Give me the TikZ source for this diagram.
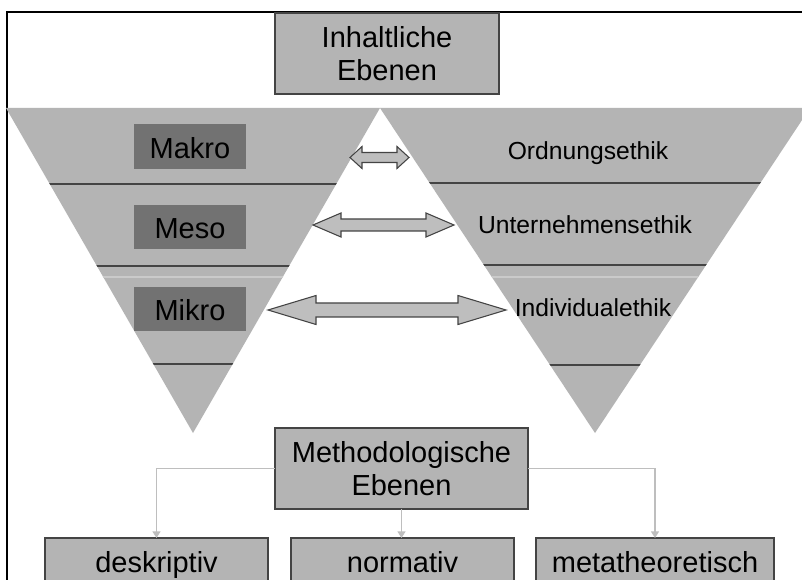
\documentclass[tikz,border=0pt]{standalone}
\usepackage{fontspec}
\setmainfont{Liberation Sans}
\usetikzlibrary{arrows.meta}
\definecolor{lg}{HTML}{B4B4B4}
\definecolor{dg}{HTML}{727272}
\definecolor{ln}{HTML}{444444}
\definecolor{faint}{HTML}{CACACA}
\definecolor{ag}{HTML}{BEBEBE}
\definecolor{cg}{HTML}{BEBEBE}
\newcommand{\bigfont}{\fontsize{21.75}{25.1}\selectfont}
\newcommand{\midfont}{\fontsize{18.5}{22}\selectfont}
\newcommand{\dblarr}[6]{%
  \filldraw[blockarrow] (#1,#3) -- (#1+#4,#3-#5) -- (#1+#4,#3-#6) -- (#2-#4,#3-#6) -- (#2-#4,#3-#5) -- (#2,#3) -- (#2-#4,#3+#5) -- (#2-#4,#3+#6) -- (#1+#4,#3+#6) -- (#1+#4,#3+#5) -- cycle;}
\tikzset{
  sz/.style 2 args={minimum width=#1*0.75pt, minimum height=#2*0.75pt},
  gbase/.style={draw=ln, fill=lg, line width=0.9pt, inner sep=0pt, outer sep=0pt, font=\bigfont},
  graybox/.style={gbase, align=center},
  botbox/.style={gbase, text height=17.4pt, text depth=0pt, anchor=north},
  darkbox/.style={fill=dg, inner sep=0pt, outer sep=0pt, font=\bigfont, text height=17.4pt, text depth=0pt},
  rlabel/.style={font=\midfont, anchor=base, inner sep=0pt},
  sepline/.style={draw=ln, line width=1.1pt},
  faintline/.style={draw=faint, line width=0.8pt},
  blockarrow/.style={fill=cg, draw=ln, line width=0.8pt, line join=miter},
  conn/.style={draw=ag, line width=1.1pt, -{Triangle[length=5pt,width=6pt]}},
}
\begin{document}
\begin{tikzpicture}[x=0.75pt, y=-0.75pt]
\useasboundingbox (0,0) rectangle (802,580);
\clip (0,0) rectangle (802,580);
\fill[white] (0,0) rectangle (802,580);

% frame
\draw[line width=1.8pt] (7,600) -- (7,12) -- (820,12);

% triangles
\fill[lg] (6,108) -- (380,108) -- (193,433) -- cycle;
\fill[lg] (380,108) -- (810,108) -- (595,433) -- cycle;
\begin{scope}
  \clip (6,108) -- (380,108) -- (193,433) -- cycle;
  \draw[faintline] (0,277) -- (400,277);
  \draw[sepline] (0,184) -- (400,184);
  \draw[sepline] (0,266) -- (400,266);
  \draw[sepline] (0,364) -- (400,364);
\end{scope}
\begin{scope}
  \clip (380,108) -- (810,108) -- (595,433) -- cycle;
  \draw[faintline] (370,277) -- (820,277);
  \draw[sepline] (370,183) -- (820,183);
  \draw[sepline] (370,265) -- (820,265);
  \draw[sepline] (370,365) -- (820,365);
\end{scope}

% dark level boxes
\node[darkbox, sz={112}{45}] (makro) at (190,146.5) {Makro};
\node[darkbox, sz={112}{44}] (meso) at (190,227) {Meso};
\node[darkbox, sz={112}{44}] (mikro) at (190,309) {Mikro};

% right labels
\node[rlabel] (ord) at (588,160) {Ordnungsethik};
\node[rlabel] (unt) at (585,234) {Unternehmensethik};
\node[rlabel] (ind) at (593,317) {Individualethik};

% double block arrows
\dblarr{350}{409}{157.5}{12}{11}{5}
\dblarr{313}{454}{225}{28}{12}{6}
\dblarr{268}{506}{310}{48}{14.5}{7}

% top box
\node[graybox, sz={224}{81}] (inh) at (387,53.5) {Inhaltliche\\Ebenen};

% methodological levels
\node[graybox, sz={253}{81}] (meth) at (401.5,468.5) {Methodologische\\Ebenen};
\node[botbox, sz={223}{46}] (desk) at (156.5,538) {deskriptiv};
\node[botbox, sz={223}{46}] (norm) at (402.5,538) {normativ};
\node[botbox, sz={238}{46}] (meta) at (655,538) {metatheoretisch};

\draw[conn] (meth.west) -| (desk.north);
\draw[conn] (meth.south) -- (meth.south |- norm.north);
\draw[conn] (meth.east) -| (meta.north);
\end{tikzpicture}
\end{document}
